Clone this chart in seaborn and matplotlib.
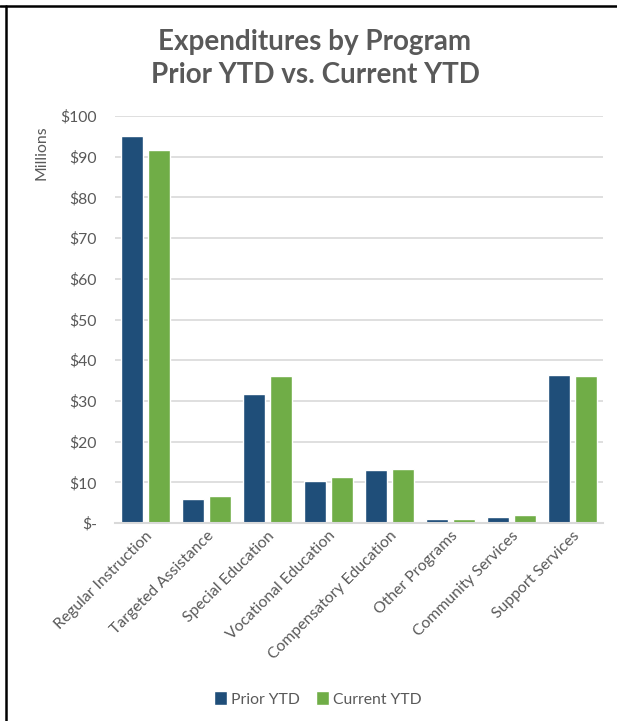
import matplotlib
matplotlib.use("Agg")
import matplotlib.pyplot as plt
from matplotlib.lines import Line2D
from matplotlib.ticker import FuncFormatter
import seaborn as sns
import pandas as pd

programs = ["Regular Instruction", "Targeted Assistance", "Special Education",
            "Vocational Education", "Compensatory Education", "Other Programs",
            "Community Services", "Support Services"]
prior_ytd = [95.1, 5.9, 31.7, 10.3, 13.0, 1.1, 1.5, 36.4]
current_ytd = [91.6, 6.6, 36.1, 11.3, 13.3, 1.1, 2.0, 36.1]
series = ["Prior YTD", "Current YTD"]
colors = ["#1F4E79", "#70AD47"]
y_ticks = [0, 10, 20, 30, 40, 50, 60, 70, 80, 90, 100]

df = pd.DataFrame({
    "Program": programs * 2,
    "Value": prior_ytd + current_ytd,
    "Series": [series[0]] * len(programs) + [series[1]] * len(programs),
})

sns.set_theme(style="white")
plt.rcParams["font.family"] = ["Lato", "DejaVu Sans"]
text_color = "#595959"
grid_color = "#D9D9D9"
label_size = 11.3

fig = plt.figure(figsize=(6.17, 7.21), dpi=100)
ax = fig.add_axes([115 / 617, 1 - 523 / 721, 488 / 617, 407 / 721])

sns.barplot(data=df, x="Program", y="Value", hue="Series", order=programs,
            hue_order=series, palette=colors, saturation=1, width=0.885,
            gap=0.15, ax=ax, zorder=2)

ax.set_ylim(0, 100)
ax.set_xlim(-0.5, len(programs) - 0.5)
ax.set_yticks(y_ticks)
ax.yaxis.set_major_formatter(FuncFormatter(lambda v, p: "$-" if v == 0 else f"${int(v)}"))
ax.grid(axis="y", color=grid_color, linewidth=1.2, zorder=0)
ax.set_axisbelow(True)
for s in ["top", "right", "left"]:
    ax.spines[s].set_visible(False)
ax.spines["bottom"].set_color(grid_color)
ax.spines["bottom"].set_linewidth(1.5)
ax.spines["bottom"].set_zorder(3)

ax.tick_params(axis="both", length=0, labelsize=label_size, labelcolor=text_color)
ax.tick_params(axis="y", pad=13)
ax.tick_params(axis="x", pad=4)
for lbl in ax.get_xticklabels():
    lbl.set_rotation(45)
    lbl.set_ha("right")
    lbl.set_va("top")
    lbl.set_rotation_mode("anchor")

ax.set_xlabel("")
ax.set_ylabel("Millions", fontsize=label_size, color=text_color)
ax.yaxis.set_label_coords(-0.136, 0.91)

leg = ax.legend(loc="center", bbox_to_anchor=(318 / 617, 1 - 699 / 721),
                bbox_transform=fig.transFigure, ncol=2, frameon=False,
                fontsize=label_size, handlelength=0.8, handleheight=1.0,
                handletextpad=0.3, columnspacing=1.0)
for t in leg.get_texts():
    t.set_color(text_color)

fig.text(315 / 617, 1 - 42 / 721, "Expenditures by Program", ha="center", va="center",
         fontsize=20, fontweight="bold", color=text_color)
fig.text(315 / 617, 1 - 75 / 721, "Prior YTD vs. Current YTD", ha="center", va="center",
         fontsize=20, fontweight="bold", color=text_color)

# frame lines along the top and left edges
fig.add_artist(Line2D([0, 1], [1 - 6 / 721, 1 - 6 / 721], transform=fig.transFigure,
                      color="black", linewidth=1.8))
fig.add_artist(Line2D([6 / 617, 6 / 617], [0, 1 - 6 / 721], transform=fig.transFigure,
                      color="black", linewidth=1.8))

fig.savefig("out.png", dpi=100, facecolor="white")
